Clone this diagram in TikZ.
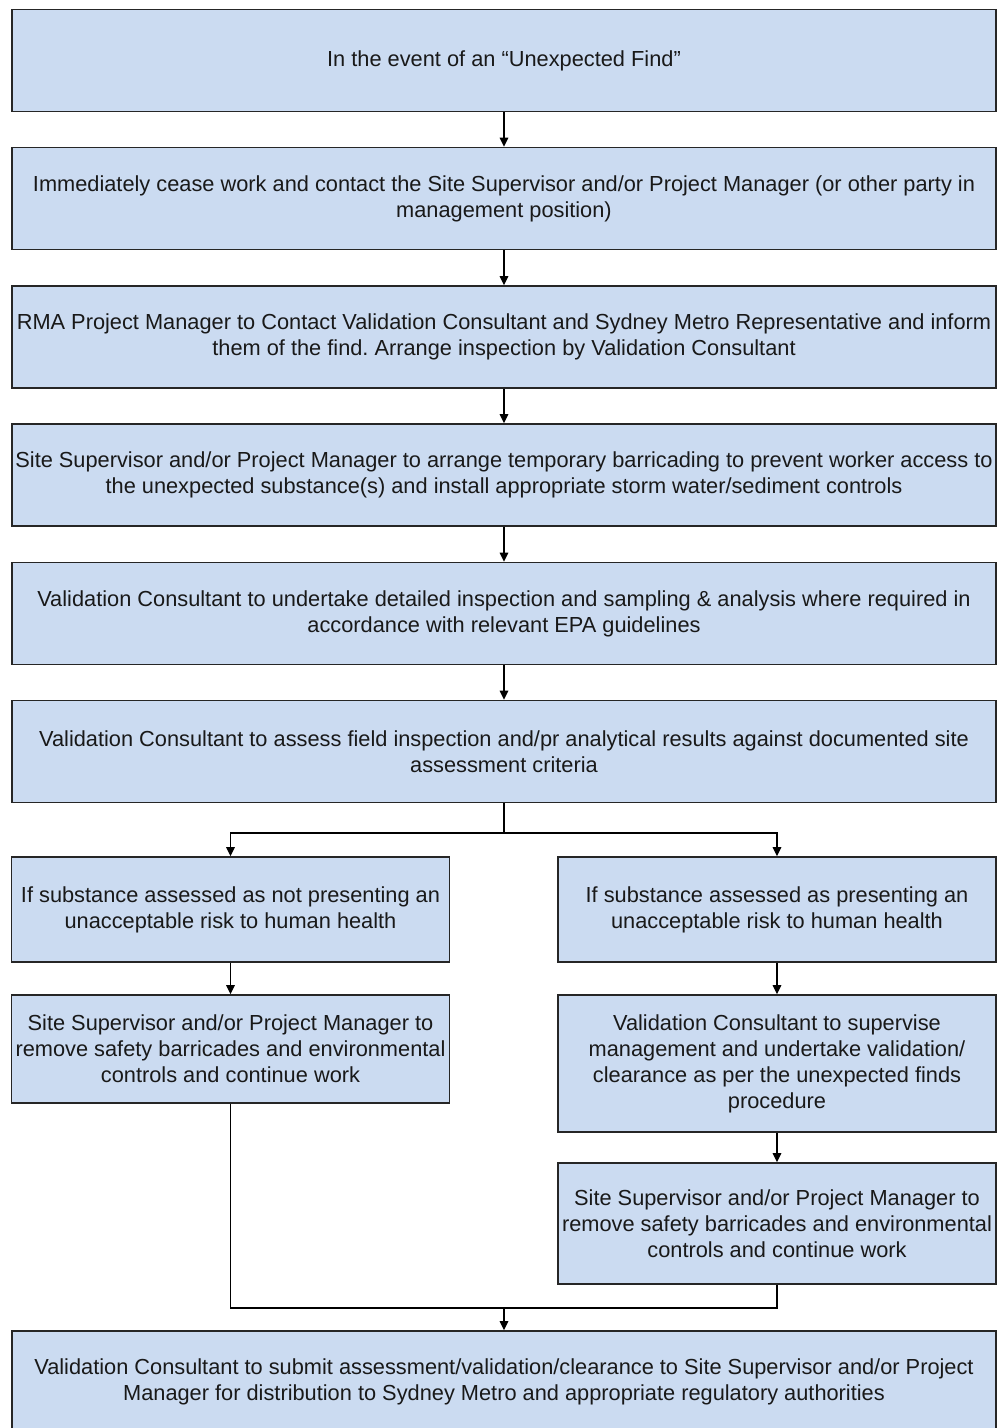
\documentclass[tikz,border=0pt]{standalone}
\usepackage{fontspec}
\setmainfont{Liberation Sans}
\usetikzlibrary{arrows.meta}
\definecolor{boxblue}{RGB}{203,219,241}
\frenchspacing

\begin{document}
\begin{tikzpicture}[x=0.02cm, y=-0.02cm,
  box/.style={draw=black!85, line width=0.9pt, fill=boxblue, align=center, inner sep=1pt,
    text=black!90, font=\fontsize{12.4}{14.8}\selectfont},
  widebox/.style={box, minimum width=19.68cm, minimum height=2.04cm},
  halfbox/.style={box, minimum width=8.76cm},
  arr/.style={-{Triangle[length=1.8mm, width=1.7mm]}, line width=0.8pt},
  link/.style={line width=0.8pt}]
\useasboundingbox[fill=white] (0,0) rectangle (997,1428);
% main column
\node[widebox] (find) at (504,60.5) {In the event of an ``Unexpected Find''};
\node[widebox] (cease) at (504,198.5) {Immediately cease work and contact the Site Supervisor and/or Project Manager (or other party in\\management position)};
\node[widebox] (contact) at (504,337) {RMA Project Manager to Contact Validation Consultant and Sydney Metro Representative and inform\\them of the find. Arrange inspection by Validation Consultant};
\node[widebox] (barricade) at (504,475) {Site Supervisor and/or Project Manager to arrange temporary barricading to prevent worker access to\\the unexpected substance(s) and install appropriate storm water/sediment controls};
\node[widebox] (inspect) at (504,613.5) {Validation Consultant to undertake detailed inspection and sampling \& analysis where required in\\accordance with relevant EPA guidelines};
\node[widebox] (assess) at (504,751.5) {Validation Consultant to assess field inspection and/pr analytical results against documented site\\assessment criteria};
\foreach \a/\b in {find/cease, cease/contact, contact/barricade, barricade/inspect, inspect/assess}
  \draw[arr] (\a) -- (\b);
% left branch: no unacceptable risk
\node[halfbox, minimum height=2.1cm] (norisk) at (230.5,909.5) {If substance assessed as not presenting an\\unacceptable risk to human health};
\node[halfbox, minimum height=2.16cm] (leftgo) at (230.5,1049) {Site Supervisor and/or Project Manager to\\remove safety barricades and environmental\\controls and continue work};
% right branch: unacceptable risk
\node[halfbox, minimum height=2.1cm] (risk) at (777,909.5) {If substance assessed as presenting an\\unacceptable risk to human health};
\node[halfbox, minimum height=2.74cm] (manage) at (777,1063.5) {Validation Consultant to supervise\\management and undertake validation/\\clearance as per the unexpected finds\\procedure};
\node[halfbox, minimum height=2.42cm] (rightgo) at (777,1223.5) {Site Supervisor and/or Project Manager to\\remove safety barricades and environmental\\controls and continue work};
% final step
\node[widebox] (submit) at (504,1382) {Validation Consultant to submit assessment/validation/clearance to Site Supervisor and/or Project\\Manager for distribution to Sydney Metro and appropriate regulatory authorities};
% split and merge
\coordinate (split) at (504,833);
\coordinate (merge) at (504,1308);
\draw[link] (assess) -- (split);
\draw[arr] (split) -| (norisk);
\draw[arr] (split) -| (risk);
\draw[arr] (norisk) -- (leftgo);
\draw[arr] (risk) -- (manage);
\draw[arr] (manage) -- (rightgo);
\draw[link] (leftgo) |- (merge);
\draw[link] (rightgo) |- (merge);
\draw[arr] (merge) -- (submit);
\end{tikzpicture}
\end{document}
